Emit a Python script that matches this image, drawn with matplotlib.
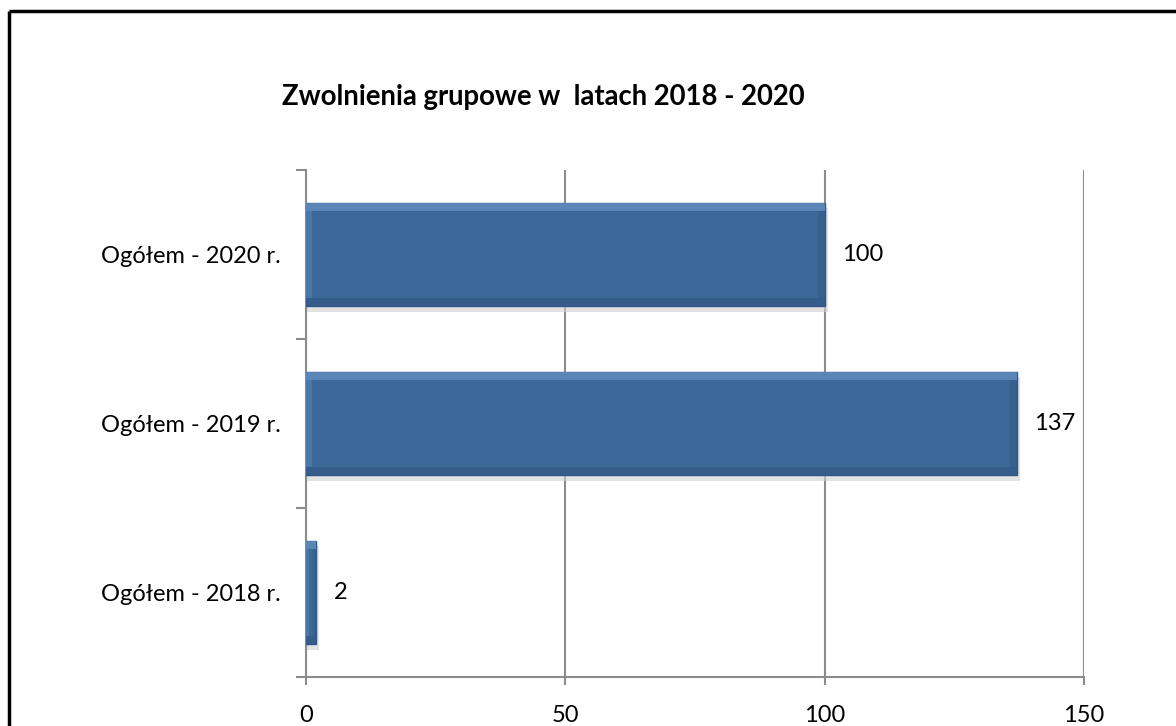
import matplotlib.pyplot as plt
from matplotlib.lines import Line2D

categories = ['Ogółem - 2018 r.', 'Ogółem - 2019 r.', 'Ogółem - 2020 r.']
values = [2, 137, 100]
xticks = [0, 50, 100, 150]

plt.rcParams['font.family'] = ['Lato', 'DejaVu Sans']

fig = plt.figure(figsize=(11.76, 7.26), dpi=100)
ax = fig.add_axes([306 / 1176, 1 - 677 / 726, 778 / 1176, 507 / 726])

# frame round the chart (only top and left edges visible)
fx, fy = 9 / 1176, 1 - 11 / 726
fig.lines.append(Line2D([fx, fx], [0, fy], transform=fig.transFigure,
                        color='black', linewidth=2.5, solid_capstyle='butt'))
fig.lines.append(Line2D([fx, 1], [fy, fy], transform=fig.transFigure,
                        color='black', linewidth=2.5, solid_capstyle='butt'))

ypos = list(range(len(categories)))
h = 0.615
grey = '#8c8c8c'

# shadow
ax.barh([y - 0.03 for y in ypos], [v + 0.4 for v in values], height=h, left=0.2,
        color='#d0d0d0', alpha=0.6, zorder=2)
# bars
ax.barh(ypos, values, height=h, color='#3c6898', edgecolor='#2e5583', linewidth=1.0, zorder=3)
# bevel: light top, darker bottom
ax.barh([y + h / 2 - 0.025 for y in ypos], values, height=0.05, color='#5a85b7', zorder=4)
ax.barh([y - h / 2 + 0.025 for y in ypos], values, height=0.05, color='#345d8b', zorder=4)
bev = [min(1.2, v * 0.3) for v in values]
ax.barh(ypos, bev, height=h - 0.1, color='#4a76a8', zorder=4)
ax.barh(ypos, bev, left=[v - b for v, b in zip(values, bev)], height=h - 0.1, color='#36618f', zorder=4)

for y, v in zip(ypos, values):
    ax.text(v + 3.3, y, str(v), va='center', ha='left', fontsize=17, zorder=5)

ax.set_xlim(0, 150)
ax.set_ylim(-0.5, len(categories) - 0.5)
ax.set_xticks(xticks)
ax.set_xticklabels([str(t) for t in xticks], fontsize=17)
ax.tick_params(axis='x', length=6, width=1.5, color=grey, pad=14)

ax.set_yticks([y - 0.5 for y in ypos] + [len(categories) - 0.5])
ax.set_yticklabels([])
ax.set_yticks(ypos, minor=True)
ax.set_yticklabels(categories, minor=True, fontsize=17)
ax.tick_params(axis='y', which='major', length=7, width=1.5, color=grey)
ax.tick_params(axis='y', which='minor', length=0, pad=18)

ax.grid(axis='x', color=grey, linewidth=1.5, zorder=1)
ax.set_axisbelow(True)
for s in ['top', 'right']:
    ax.spines[s].set_visible(False)
for s in ['left', 'bottom']:
    ax.spines[s].set_color(grey)
    ax.spines[s].set_linewidth(1.5)

fig.text(543 / 1176, 1 - 97 / 726, 'Zwolnienia grupowe w  latach 2018 - 2020', ha='center', va='center',
         fontsize=19.8, fontweight='bold')

fig.savefig('out.png', dpi=100)
